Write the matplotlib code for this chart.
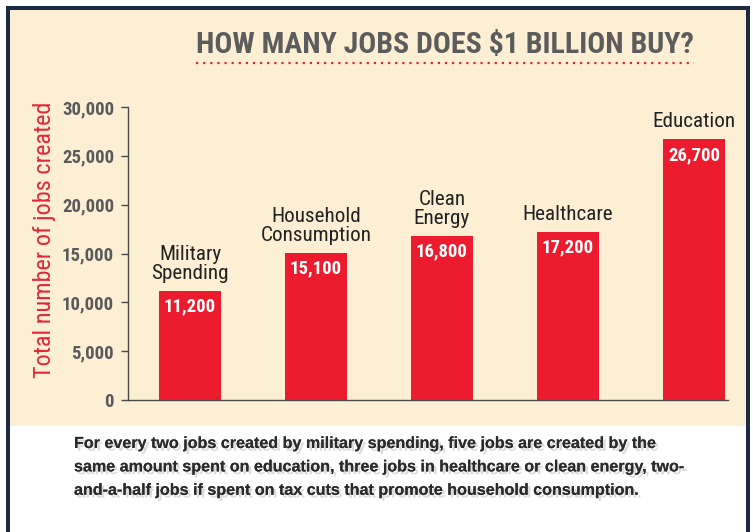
import matplotlib
matplotlib.use("Agg")
import matplotlib.pyplot as plt
import matplotlib.patches as patches
import matplotlib.patheffects as pe

# Dati
categorie = ["Military\nSpending", "Household\nConsumption", "Clean\nEnergy", "Healthcare", "Education"]
posti_lavoro = [11200, 15100, 16800, 17200, 26700]
etichette_valori = ["11,200", "15,100", "16,800", "17,200", "26,700"]
tick_valori = [0, 5000, 10000, 15000, 20000, 25000, 30000]
tick_etichette = ["0", "5,000", "10,000", "15,000", "20,000", "25,000", "30,000"]

narrow = ["Roboto Condensed", "Liberation Sans Narrow", "DejaVu Sans"]
crema = "#fcefd3"
rosso = "#ec1c2e"

W, H = 753, 532
fig = plt.figure(figsize=(W / 100, H / 100), dpi=100)
fig.patch.set_facecolor("white")

def px(x, y):
    return x / W, 1 - y / H

# Cornice scura e pannello crema
fig.patches.append(patches.Rectangle(px(6, 426), 744 / W, 420 / H, transform=fig.transFigure,
                                     facecolor=crema, edgecolor="none", zorder=-2))
for rx, ry, rw, rh in [(6, 532, 4, 526), (746, 532, 4, 526), (6, 10, 744, 4)]:
    fig.patches.append(patches.Rectangle(px(rx, ry), rw / W, rh / H, transform=fig.transFigure,
                                         facecolor="#1d2a45", edgecolor="none", zorder=-1))

# Assi
ax = fig.add_axes([128 / W, 1 - 400 / H, 600 / W, 293 / H])
ax.set_zorder(2)
ax.set_facecolor("none")
x = list(range(len(categorie)))
ax.bar(x, posti_lavoro, width=0.49, color=rosso, zorder=2)
ax.set_xlim(-0.492, 4.27)
ax.set_ylim(0, 30000)

for s in ["top", "right"]:
    ax.spines[s].set_visible(False)
for s in ["left", "bottom"]:
    ax.spines[s].set_color("#4a4a4a")
    ax.spines[s].set_linewidth(1.0)
ax.set_xticks([])
ax.set_yticks(tick_valori)
ax.set_yticklabels(tick_etichette, family=narrow, fontweight="bold", fontsize=13.5, color="#5a5a5a")
ax.tick_params(axis="y", length=5, width=1, color="#4a4a4a", pad=5)

# Etichette valori e categorie
for xi, v, lab, cat in zip(x, posti_lavoro, etichette_valori, categorie):
    ax.text(xi, v - 700, lab, ha="center", va="top", color="white", fontsize=13.5,
            fontweight="bold", family=narrow, zorder=3)
    ax.text(xi, v + 800, cat, ha="center", va="bottom", color="#222222", fontsize=15.2,
            family=narrow, linespacing=1.0)

# Etichetta asse y
fig.text(45 / W, 1 - 240 / H, "Total number of jobs created", rotation=90, ha="center", va="center",
         color="#e0283a", fontsize=17.5, family=narrow)

# Titolo con sottolineatura a puntini
fig.text(445 / W, 1 - 45 / H, "HOW MANY JOBS DOES $1 BILLION BUY?", ha="center", va="center",
         color="#5c5c5c", fontsize=21.5, fontweight="bold", family=narrow)
fig.lines.append(plt.Line2D([196 / W, 694 / W], [1 - 63 / H, 1 - 63 / H], transform=fig.transFigure,
                            color="#d6283a", linestyle=(0, (1, 2.2)), linewidth=1.6))

# Testo in basso
nota = ("For every two jobs created by military spending, five jobs are created by the\n"
        "same amount spent on education, three jobs in healthcare or clean energy, two-\n"
        "and-a-half jobs if spent on tax cuts that promote household consumption.")
fig.text(74 / W, 1 - 436 / H, nota, ha="left", va="top", color="#2b2b2b", fontsize=11.6,
         fontweight="bold", family=["Liberation Sans", "DejaVu Sans"], linespacing=1.7,
         path_effects=[pe.withSimplePatchShadow(offset=(2, -2), shadow_rgbFace="#888888", alpha=0.3),
                       pe.Normal()])

fig.savefig("out.png", dpi=100, facecolor=fig.get_facecolor())
